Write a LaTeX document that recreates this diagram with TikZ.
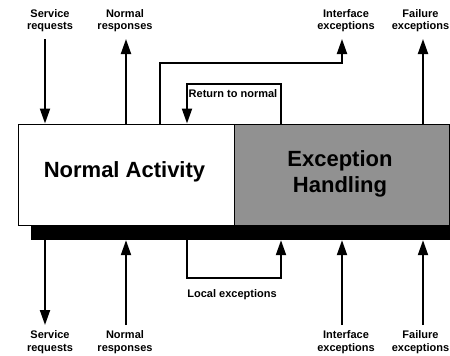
\documentclass[tikz,border=0pt]{standalone}
\usepackage{fontspec}
\setmainfont{Liberation Sans}
\usetikzlibrary{arrows.meta}
\definecolor{handlergray}{RGB}{145,145,145}
\begin{document}
\begin{tikzpicture}[x=1pt,y=-1pt,
  box/.style={draw,line width=1pt,rectangle,inner sep=0pt,minimum height=101pt},
  arr/.style={line width=2pt,-{Triangle[length=15pt,width=10pt]}},
  wire/.style={line width=2pt},
  lbl/.style={font=\fontsize{11}{12.5}\selectfont\bfseries,align=center,inner sep=0pt},
  big/.style={font=\fontsize{22}{26}\selectfont\bfseries,align=center,inner sep=0pt}]
\useasboundingbox (0,0) rectangle (450,356);

% shadow bar under the component
\node[fill=black,inner sep=0pt,minimum width=419pt,minimum height=15pt] (bar) at (240.5,232.5) {};
% the two halves of the component
\node[box,fill=white,minimum width=216pt] (na) at (126,174.5) {};
\node[box,fill=handlergray,minimum width=215pt] (eh) at (341.5,174.5) {};
\node[big,anchor=base] (natext) at (124.5,177) {Normal Activity};
\node[big] (ehtext) at (340,173.5) {Exception\\Handling};

% free ends of the interface arrows
\coordinate (srT) at (45,39);
\coordinate (nrT) at (126,39);
\coordinate (ieK) at (160,63);
\coordinate (ieT) at (342,39);
\coordinate (rnR) at (281,84);
\coordinate (rnL) at (187,84);
\coordinate (feT) at (423,39);
\coordinate (srB) at (45,325);
\coordinate (nrB) at (126,325);
\coordinate (leL) at (187,278);
\coordinate (leR) at (281,278);
\coordinate (ieB) at (342,325);
\coordinate (feB) at (423,325);

% upper interface
\draw[arr] (srT) -- (srT |- na.north);
\draw[arr] (nrT |- na.north) -- (nrT);
\draw[arr] (ieK |- na.north) -- (ieK) -| (ieT);
\draw[arr] (rnR |- eh.north) -- (rnR) -| (rnL |- na.north);
\draw[arr] (feT |- eh.north) -- (feT);

% lower interface
\draw[arr] (srB |- bar.south) -- (srB);
\draw[arr] (nrB) -- (nrB |- bar.south);
\draw[arr] (leL |- bar.south) -- (leL) -| (leR |- bar.south);
\draw[arr] (ieB) -- (ieB |- bar.south);
\draw[arr] (feB) -- (feB |- bar.south);

% labels
\node[lbl] (srTl) at (50,20.7) {Service\\requests};
\node[lbl] (nrTl) at (125,20.7) {Normal\\responses};
\node[lbl] (ieTl) at (346,20.7) {Interface\\exceptions};
\node[lbl] (feTl) at (420.5,20.7) {Failure\\exceptions};
\node[lbl,anchor=base west] (rnl) at (188.5,97) {Return to normal};
\node[lbl,anchor=base] (lel) at (232,297) {Local exceptions};
\node[lbl] (srBl) at (50,342.4) {Service\\requests};
\node[lbl] (nrBl) at (125,342.4) {Normal\\responses};
\node[lbl] (ieBl) at (346,342.4) {Interface\\exceptions};
\node[lbl] (feBl) at (420.5,342.4) {Failure\\exceptions};
\end{tikzpicture}
\end{document}
